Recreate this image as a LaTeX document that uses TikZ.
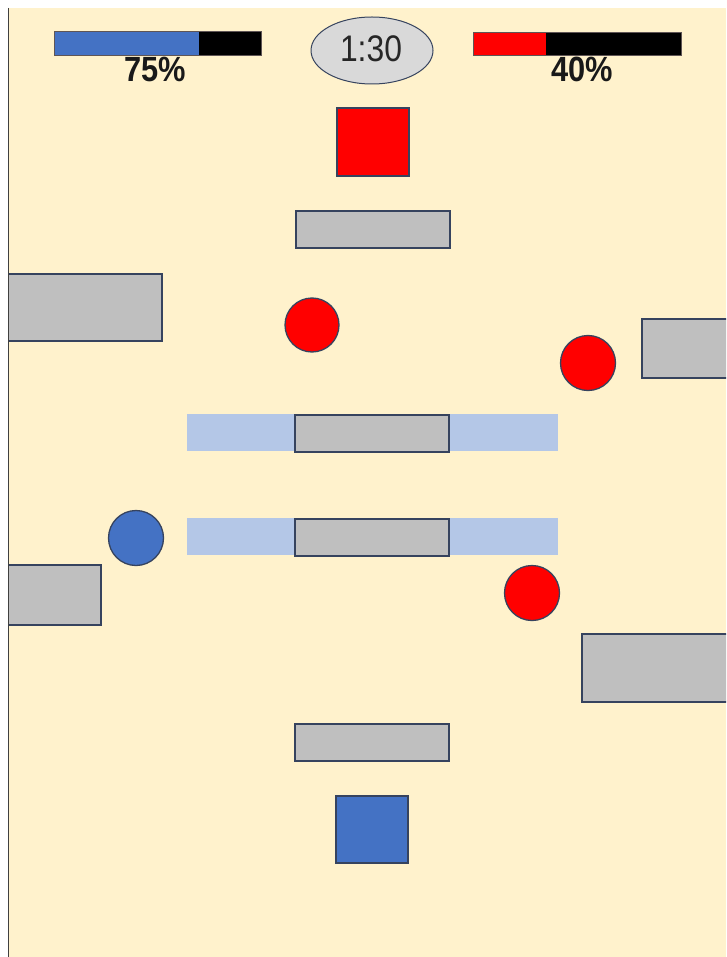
\documentclass[tikz,border=0pt]{standalone}
\usepackage{fontspec}
\setmainfont{Liberation Sans}
\definecolor{cream}{HTML}{FFF2CC}
\definecolor{edge}{HTML}{36435E}
\definecolor{blk}{HTML}{4472C4}
\definecolor{lblue}{HTML}{B4C7E7}
\definecolor{gry}{HTML}{BFBFBF}
\definecolor{lgry}{HTML}{D9D9D9}
\definecolor{rd}{HTML}{FF0000}
\tikzset{
  obj/.style={draw=edge, line width=1.3pt},
  wall/.style={obj, fill=gry},
  band/.style={fill=lblue},
  pct/.style={inner sep=0pt, font=\fontsize{35}{35}\selectfont\bfseries, xscale=0.88, anchor=north, text=black!90},
}
\begin{document}
\begin{tikzpicture}[x=1pt,y=-1pt]
\useasboundingbox (0,0) rectangle (726,957);
\fill[white] (0,0) rectangle (726,957);
\fill[cream] (8,8) rectangle (726,957);
\begin{scope}
\clip (8,8) rectangle (726,957);
% health bars
\fill[blk] (54,31) rectangle (199,55);
\fill[black] (199,31) rectangle (261,55);
\draw[draw=edge!70!brown, line width=0.7pt] (54,31) rectangle (261,55);
\fill[rd] (473,32) rectangle (546,55);
\fill[black] (546,32) rectangle (681,55);
\draw[draw=edge!70!brown, line width=0.7pt] (473,32) rectangle (681,55);
\node[pct] (p1) at (155,57) {75\%};
\node[pct] (p2) at (582.5,57) {40\%};
% timer
\draw[obj, line width=1pt, fill=lgry] (372,50.5) ellipse [x radius=61, y radius=33.5];
\node[inner sep=0pt, font=\fontsize{37}{37}\selectfont, xscale=0.86, text=black!85] (t) at (371,49) {1:30};
% bands
\fill[band] (187,414) rectangle (558,451);
\fill[band] (187,518) rectangle (558,555);
% walls
\draw[wall] (296,211) rectangle (450,248);
\draw[wall] (6,274) rectangle (162,341);
\draw[wall] (642,319) rectangle (730,378);
\draw[wall] (295,415) rectangle (449,452);
\draw[wall] (295,519) rectangle (449,556);
\draw[wall] (6,565) rectangle (101,625);
\draw[wall] (582,634) rectangle (730,702);
\draw[wall] (295,724) rectangle (449,761);
% players
\draw[obj, fill=rd] (337,108) rectangle (409,176);
\draw[obj, fill=blk] (336,796) rectangle (408,863);
% balls
\draw[obj, fill=rd] (312,325) circle (27);
\draw[obj, fill=rd] (588,363) circle (27.5);
\draw[obj, fill=blk] (136,538) circle (27.5);
\draw[obj, fill=rd] (532,593) circle (27.5);
\end{scope}
\draw[black!75, line width=1.8pt] (8.5,8) -- (8.5,957);
\end{tikzpicture}
\end{document}
